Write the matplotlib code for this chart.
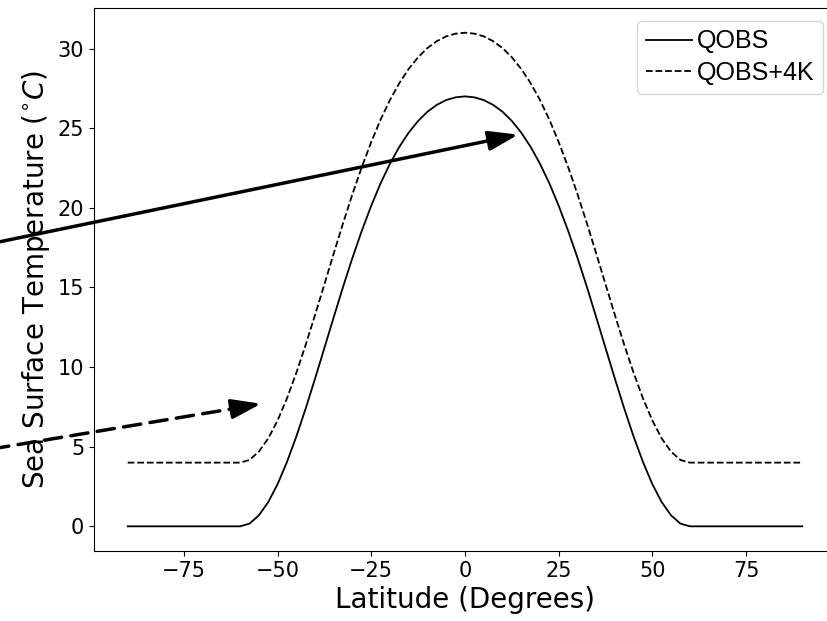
import matplotlib
matplotlib.use("Agg")
import matplotlib.pyplot as plt

# latitude grid (degrees) and SST profiles
lat = [-90.0, -87.5, -85.0, -82.5, -80.0, -77.5, -75.0, -72.5, -70.0, -67.5,
       -65.0, -62.5, -60.0, -57.5, -55.0, -52.5, -50.0, -47.5, -45.0, -42.5,
       -40.0, -37.5, -35.0, -32.5, -30.0, -27.5, -25.0, -22.5, -20.0, -17.5,
       -15.0, -12.5, -10.0, -7.5, -5.0, -2.5, 0.0, 2.5, 5.0, 7.5,
       10.0, 12.5, 15.0, 17.5, 20.0, 22.5, 25.0, 27.5, 30.0, 32.5,
       35.0, 37.5, 40.0, 42.5, 45.0, 47.5, 50.0, 52.5, 55.0, 57.5,
       60.0, 62.5, 65.0, 67.5, 70.0, 72.5, 75.0, 77.5, 80.0, 82.5,
       85.0, 87.5, 90.0]

sst_qobs = [0, 0, 0, 0, 0, 0, 0, 0, 0, 0,
            0, 0, 0, 0.17, 0.69, 1.52, 2.65, 4.04, 5.64, 7.40,
            9.28, 11.21, 13.15, 15.06, 16.88, 18.58, 20.14, 21.55, 22.78, 23.84,
            24.73, 25.46, 26.04, 26.47, 26.77, 26.94, 27.00, 26.94, 26.77, 26.47,
            26.04, 25.46, 24.73, 23.84, 22.78, 21.55, 20.14, 18.58, 16.88, 15.06,
            13.15, 11.21, 9.28, 7.40, 5.64, 4.04, 2.65, 1.52, 0.69, 0.17,
            0, 0, 0, 0, 0, 0, 0, 0, 0, 0,
            0, 0, 0]

sst_qobs4k = [4, 4, 4, 4, 4, 4, 4, 4, 4, 4,
              4, 4, 4, 4.17, 4.69, 5.52, 6.65, 8.04, 9.64, 11.40,
              13.28, 15.21, 17.15, 19.06, 20.88, 22.58, 24.14, 25.55, 26.78, 27.84,
              28.73, 29.46, 30.04, 30.47, 30.77, 30.94, 31.00, 30.94, 30.77, 30.47,
              30.04, 29.46, 28.73, 27.84, 26.78, 25.55, 24.14, 22.58, 20.88, 19.06,
              17.15, 15.21, 13.28, 11.40, 9.64, 8.04, 6.65, 5.52, 4.69, 4.17,
              4, 4, 4, 4, 4, 4, 4, 4, 4, 4,
              4, 4, 4]

# arrow tips (data coords)
tip_solid = (14.2, 24.6)
tip_dashed = (-54.4, 7.7)
dashed_head_base = (-62.4, 7.37)

fig = plt.figure(figsize=(8.28, 6.21), dpi=100)
ax = fig.add_axes([0.1135, 0.1127, 0.8961, 0.8744])

p0, = ax.plot(lat, sst_qobs, color="black", lw=1.3, label="QOBS")
p1, = ax.plot(lat, sst_qobs4k, color="black", lw=1.3, ls="--", label="QOBS+4K")

head = "-|>,head_length=0.9,head_width=0.3"
ax.annotate("", xy=tip_solid, xycoords="data",
            xytext=(-0.01, 0.608), textcoords="figure fraction",
            arrowprops=dict(arrowstyle=head, mutation_scale=20, lw=2.5,
                            color="black", shrinkA=0, shrinkB=0),
            annotation_clip=False)
# dashed shaft, then a solid head on top
ax.annotate("", xy=dashed_head_base, xycoords="data",
            xytext=(-0.01, 0.277), textcoords="figure fraction",
            arrowprops=dict(arrowstyle="-", lw=2.5, color="black",
                            linestyle=(0, (5, 2.7)), shrinkA=0, shrinkB=0),
            annotation_clip=False)
ax.annotate("", xy=tip_dashed, xycoords="data",
            xytext=dashed_head_base, textcoords="data",
            arrowprops=dict(arrowstyle=head, mutation_scale=20, lw=2.5,
                            color="black", shrinkA=0, shrinkB=0),
            annotation_clip=False)

ax.legend(loc="upper right", prop={"family": "Liberation Sans", "size": 18},
          handlelength=1.85, handletextpad=0.2, labelspacing=0.3,
          borderpad=0.35)

ax.set_xlim(-99, 99)
ax.set_ylim(-1.55, 32.55)
ax.tick_params(labelsize=15)
ax.set_xlabel("Latitude (Degrees)", fontsize=20)
ax.set_ylabel("Sea Surface Temperature ($^{\\circ}C$)", fontsize=20)
ax.spines["right"].set_visible(False)

fig.savefig("out.png", dpi=100)
